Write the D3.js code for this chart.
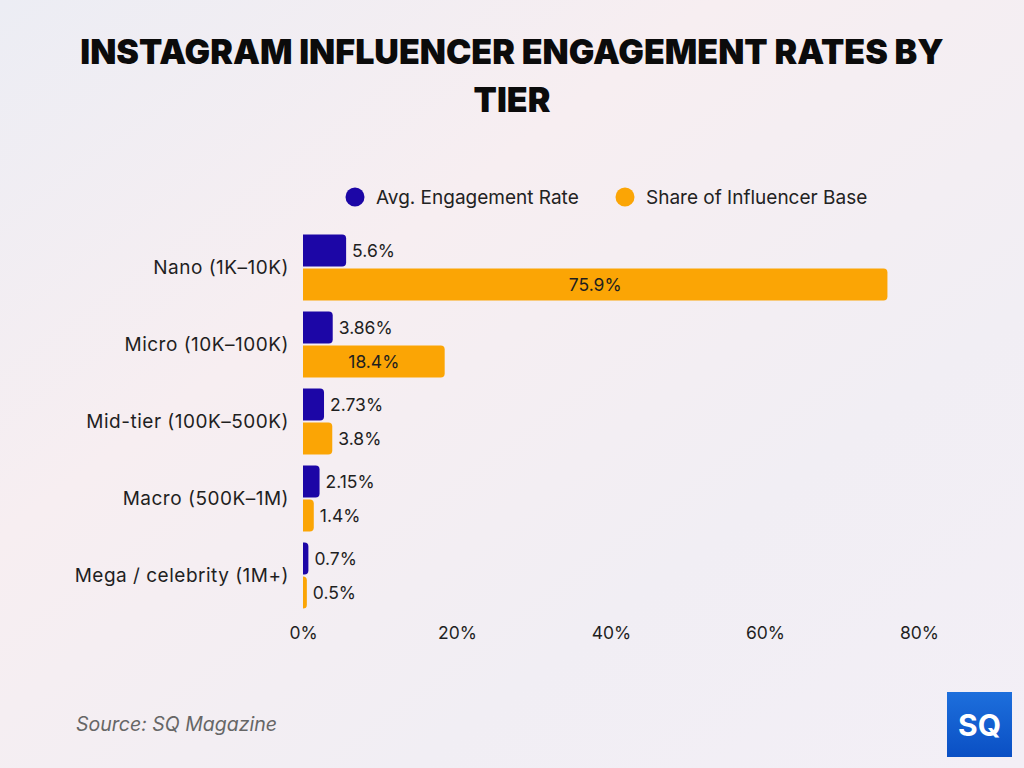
<!DOCTYPE html>
<html>
<head>
<meta charset="utf-8">
<script src="https://cdn.jsdelivr.net/npm/d3@7"></script>
<style>
  html, body { margin: 0; padding: 0; }
  body { width: 1024px; height: 768px; overflow: hidden; }
  text { font-family: "Inter", "Noto Sans", sans-serif; }
</style>
</head>
<body>
<script>
const categories = ['Nano (1K–10K)', 'Micro (10K–100K)', 'Mid-tier (100K–500K)', 'Macro (500K–1M)', 'Mega / celebrity (1M+)'];
const engagementRate = [5.6, 3.86, 2.73, 2.15, 0.7];
const influencerShare = [75.9, 18.4, 3.8, 1.4, 0.5];
const seriesNames = ['Avg. Engagement Rate', 'Share of Influencer Base'];
const xTicks = [0, 20, 40, 60, 80];

const COLORS = ['#1c06a6', '#fba505'];

function roundedRight(x0, y, w, h, r)
{
    r = Math.min(r, w, h / 2);
    return `M${x0},${y}H${x0 + w - r}Q${x0 + w},${y} ${x0 + w},${y + r}` +
        `V${y + h - r}Q${x0 + w},${y + h} ${x0 + w - r},${y + h}H${x0}Z`;
}

function main()
{
    const W = 1024, H = 768;
    const svg = d3.select('body').append('svg')
        .attr('width', W).attr('height', H);

    // background
    const defs = svg.append('defs');
    const g1 = defs.append('linearGradient').attr('id', 'bg')
        .attr('x1', 0).attr('y1', 0).attr('x2', 1).attr('y2', 1);
    g1.append('stop').attr('offset', 0).attr('stop-color', '#ecedf4');
    g1.append('stop').attr('offset', 0.35).attr('stop-color', '#f7eef1');
    g1.append('stop').attr('offset', 0.7).attr('stop-color', '#f1eef4');
    g1.append('stop').attr('offset', 1).attr('stop-color', '#f3eff6');
    svg.append('rect').attr('width', W).attr('height', H).attr('fill', 'url(#bg)');

    // title
    const title = svg.append('text')
        .attr('text-anchor', 'middle')
        .style('font-family', 'Inter, sans-serif')
        .style('font-weight', 900)
        .style('font-size', '34px')
        .attr('fill', '#0b0b0b');
    title.append('tspan').attr('x', 512).attr('y', 64).text('INSTAGRAM INFLUENCER ENGAGEMENT RATES BY');
    title.append('tspan').attr('x', 512).attr('y', 112).text('TIER');

    // legend
    const legend = svg.append('g').attr('transform', 'translate(0,197)');
    const legendX = [355, 625];
    seriesNames.forEach((name, i) => {
        legend.append('circle').attr('cx', legendX[i]).attr('cy', 0).attr('r', 9.5).attr('fill', COLORS[i]);
        legend.append('text').attr('x', legendX[i] + 21).attr('y', 0).attr('dy', '0.35em')
            .style('font-size', '19px').attr('fill', '#222').text(name);
    });

    // scales
    const x = d3.scaleLinear().domain([0, 80]).range([303, 919]);
    const y = d3.scaleBand().domain(categories).range([229, 614]).paddingInner(0.14).paddingOuter(0.07);
    const sub = d3.scaleBand().domain([0, 1]).range([0, y.bandwidth()]).paddingInner(0.06);

    const rows = categories.map((c, i) => ({ c, v: [engagementRate[i], influencerShare[i]] }));

    const groups = svg.append('g').selectAll('g')
        .data(rows).enter().append('g')
        .attr('transform', d => `translate(0,${y(d.c)})`);

    groups.each(function (d) {
        const g = d3.select(this);
        d.v.forEach((val, s) => {
            const w = x(val) - x(0);
            g.append('path')
                .attr('d', roundedRight(x(0), sub(s), Math.max(w, 2.5), sub.bandwidth(), 4))
                .attr('fill', COLORS[s]);
            const inside = w > 80;
            g.append('text')
                .attr('x', inside ? x(0) + w / 2 : x(0) + Math.max(w, 2.5) + 6)
                .attr('y', sub(s) + sub.bandwidth() / 2)
                .attr('dy', '0.35em')
                .attr('text-anchor', inside ? 'middle' : 'start')
                .style('font-size', '17.5px')
                .attr('fill', '#1f1f1f')
                .text(val + '%');
        });
    });

    // category axis
    const yAxis = svg.append('g')
        .attr('transform', 'translate(289,0)')
        .call(d3.axisLeft(y).tickSize(0).tickPadding(0));
    yAxis.select('.domain').remove();
    yAxis.selectAll('text').style('font-size', '19px').style('letter-spacing', '0.5px').attr('fill', '#1f1f1f')
        .style('font-family', '"Inter", "Noto Sans", sans-serif');

    // value axis
    const xAxis = svg.append('g')
        .attr('transform', 'translate(0,615)')
        .call(d3.axisBottom(x).tickValues(xTicks).tickFormat(d => d + '%').tickSize(0).tickPadding(12));
    xAxis.select('.domain').remove();
    xAxis.selectAll('text').style('font-size', '17.5px').attr('fill', '#1f1f1f')
        .style('font-family', '"Inter", "Noto Sans", sans-serif');

    // source
    svg.append('text').attr('x', 76).attr('y', 731)
        .style('font-size', '19.5px').style('font-style', 'italic')
        .attr('fill', '#666').text('Source: SQ Magazine');

    // logo
    const logo = svg.append('g').attr('transform', 'translate(947,692)');
    const lg = defs.append('linearGradient').attr('id', 'logo').attr('x1', 0).attr('y1', 0).attr('x2', 0).attr('y2', 1);
    lg.append('stop').attr('offset', 0).attr('stop-color', '#1d6fdc');
    lg.append('stop').attr('offset', 1).attr('stop-color', '#0a4fc4');
    logo.append('rect').attr('width', 65).attr('height', 65).attr('fill', 'url(#logo)');
    logo.append('text').attr('x', 32.5).attr('y', 33).attr('dy', '0.35em')
        .attr('text-anchor', 'middle').style('font-size', '30px').style('font-weight', 700)
        .attr('fill', '#fff').text('SQ');
}

main();
</script>
</body>
</html>
